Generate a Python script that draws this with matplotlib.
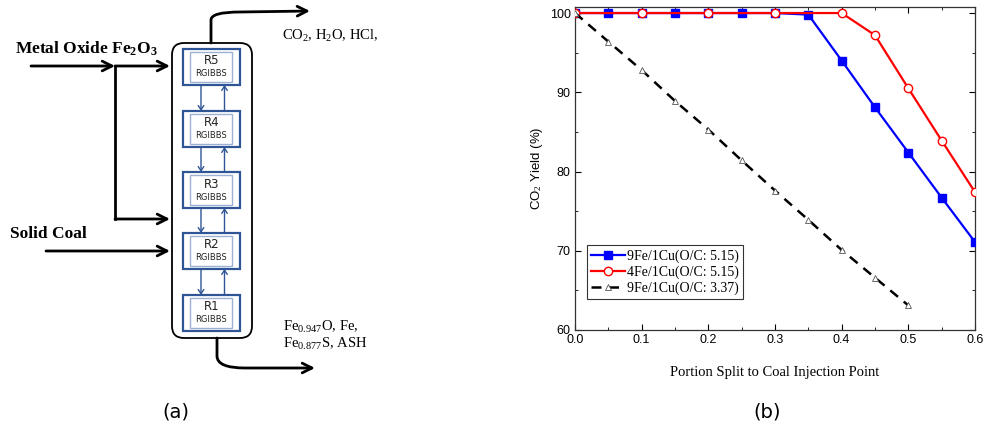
import matplotlib
matplotlib.use('Agg')
import matplotlib.pyplot as plt
from matplotlib.patches import FancyBboxPatch, Rectangle, FancyArrowPatch
from matplotlib.path import Path
from matplotlib.ticker import MultipleLocator

# data for panel (b)
split_blue = [0.0, 0.05, 0.1, 0.15, 0.2, 0.25, 0.3, 0.35, 0.4, 0.45, 0.5, 0.55, 0.6]
yield_blue = [100, 100, 100, 100, 100, 100, 100, 99.8, 94.0, 88.1, 82.4, 76.7, 71.1]
split_red = [0.0, 0.1, 0.2, 0.3, 0.4, 0.45, 0.5, 0.55, 0.6]
yield_red = [100, 100, 100, 100, 100, 97.2, 90.5, 83.9, 77.4]
split_black = [0.0, 0.05, 0.1, 0.15, 0.2, 0.25, 0.3, 0.35, 0.4, 0.45, 0.5]
yield_black = [100, 96.4, 92.8, 88.9, 85.3, 81.4, 77.6, 73.9, 70.1, 66.6, 63.1]
labels = ['9Fe/1Cu(O/C: 5.15)', '4Fe/1Cu(O/C: 5.15)', '9Fe/1Cu(O/C: 3.37)']

# reactors of panel (a), top to bottom
reactors = ['R5', 'R4', 'R3', 'R2', 'R1']

SERIF = 'Liberation Serif'
SANS = 'Liberation Sans'
BLUE_D = '#2f5597'

plt.rcParams['mathtext.fontset'] = 'custom'
plt.rcParams['mathtext.rm'] = SERIF
plt.rcParams['mathtext.it'] = SERIF + ':italic'
plt.rcParams['mathtext.bf'] = SERIF + ':bold'

fig = plt.figure(figsize=(9.84, 4.3), dpi=100)

# ---- panel (a): flow diagram, drawn in pixel coordinates ----
dg = fig.add_axes([0, 0, 1, 1])
dg.set_xlim(0, 984)
dg.set_ylim(430, 0)
dg.axis('off')

dg.add_patch(FancyBboxPatch((172, 43), 80, 295, boxstyle='round,pad=0,rounding_size=12',
                            fc='white', ec='black', lw=1.3, zorder=2))

box_tops = [49, 111, 172, 233, 295]
for name, top in zip(reactors, box_tops):
    dg.add_patch(Rectangle((183, top), 57, 36, fc='white', ec=BLUE_D, lw=1.6, zorder=3))
    dg.add_patch(Rectangle((190, top + 3), 42, 30, fc='white', ec='#9bb0d3', lw=1.0, zorder=3))
    dg.text(211.5, top + 12, name, ha='center', va='center', fontsize=8.5,
            family='DejaVu Sans', color='#222222', zorder=4)
    dg.text(211.5, top + 25, 'RGIBBS', ha='center', va='center', fontsize=6,
            family='DejaVu Sans', color='#222222', zorder=4)

for upper, lower in zip(box_tops[:-1], box_tops[1:]):
    dg.add_patch(FancyArrowPatch((201, upper + 36), (201, lower), arrowstyle='->,head_length=3,head_width=2',
                                 color=BLUE_D, lw=1.0, shrinkA=0, shrinkB=0, zorder=4))
    dg.add_patch(FancyArrowPatch((224.5, lower), (224.5, upper + 36), arrowstyle='->,head_length=3,head_width=2',
                                 color=BLUE_D, lw=1.0, shrinkA=0, shrinkB=0, zorder=4))

arrow_kw = dict(arrowstyle='->,head_length=7,head_width=3.5', color='black', lw=2.0,
                shrinkA=0, shrinkB=0, zorder=4)

# feeds
dg.add_patch(FancyArrowPatch((31, 66), (115, 66), **arrow_kw))
dg.add_patch(FancyArrowPatch((115, 66), (170, 66), **arrow_kw))
dg.plot([115, 115], [66, 219], color='black', lw=2.0, zorder=4, solid_capstyle='projecting')
dg.add_patch(FancyArrowPatch((115, 219), (170, 219), **arrow_kw))
dg.add_patch(FancyArrowPatch((46, 251), (170, 251), **arrow_kw))

# outlets
top_path = Path([(211, 43), (211, 20), (211, 12), (240, 12), (310, 11)],
                [Path.MOVETO, Path.LINETO, Path.CURVE3, Path.CURVE3, Path.LINETO])
dg.add_patch(FancyArrowPatch(path=top_path, **arrow_kw))
bot_path = Path([(217, 338), (217, 356), (217, 368), (245, 368), (315, 368)],
                [Path.MOVETO, Path.LINETO, Path.CURVE3, Path.CURVE3, Path.LINETO])
dg.add_patch(FancyArrowPatch(path=bot_path, **arrow_kw))

dg.text(15, 49, 'Metal Oxide Fe$_\\mathbf{2}$O$_\\mathbf{3}$', fontsize=12.5, fontweight='bold',
        family=SERIF, ha='left', va='center')
dg.text(10, 234, 'Solid Coal', fontsize=12.5, fontweight='bold', family=SERIF, ha='left', va='center')
dg.text(282, 36, 'CO$_2$, H$_2$O, HCl,', fontsize=10.5, family=SERIF, ha='left', va='center')
dg.text(283, 327, 'Fe$_{0.947}$O, Fe,', fontsize=10.5, family=SERIF, ha='left', va='center')
dg.text(283, 344, 'Fe$_{0.877}$S, ASH', fontsize=10.5, family=SERIF, ha='left', va='center')
dg.text(176, 412, '(a)', fontsize=14, family='DejaVu Sans', ha='center', va='center')
dg.text(767, 412, '(b)', fontsize=14, family='DejaVu Sans', ha='center', va='center')

# ---- panel (b): CO2 yield ----
ax = fig.add_axes([575 / 984, 100 / 430, 400 / 984, 323.3 / 430])
ax.plot(split_blue, yield_blue, color='#0000ff', lw=1.6, marker='s', ms=5.5,
        mfc='#0000ff', mec='#0000ff', label=labels[0], zorder=3)
ax.plot(split_red, yield_red, color='#ff0000', lw=1.6, marker='o', ms=6,
        mfc='white', mec='#ff0000', label=labels[1], zorder=4)
ax.plot(split_black, yield_black, color='black', lw=1.8, ls=(0, (4, 3)), marker='^', ms=5,
        mfc='white', mec='#555555', mew=0.6, label=labels[2], zorder=5)

ax.set_xlim(0, 0.6)
ax.set_ylim(60, 100.8)
ax.xaxis.set_major_locator(MultipleLocator(0.1))
ax.xaxis.set_minor_locator(MultipleLocator(0.05))
ax.yaxis.set_major_locator(MultipleLocator(10))
ax.yaxis.set_minor_locator(MultipleLocator(5))
ax.tick_params(which='both', direction='in', top=True, right=True, labelsize=9, pad=3)
ax.tick_params(which='major', length=4)
ax.tick_params(which='minor', length=2.5)
for t in ax.get_xticklabels() + ax.get_yticklabels():
    t.set_family(SANS)
for s in ax.spines.values():
    s.set_linewidth(0.9)
    s.set_color('#333333')

ax.set_xlabel('Portion Split to Coal Injection Point', family=SERIF, fontsize=10.5, labelpad=14)
ax.set_ylabel('CO$_2$ Yield (%)', family=SANS, fontsize=9.5)
ax.yaxis.set_label_coords(-0.075, 0.5)

leg = ax.legend(loc='lower left', bbox_to_anchor=(0.03, 0.095), prop={'family': SERIF, 'size': 10},
                frameon=True, fancybox=False, edgecolor='black', borderpad=0.3,
                labelspacing=0.2, handlelength=2.4, handletextpad=0.2, borderaxespad=0)
leg.get_frame().set_linewidth(0.8)

fig.savefig('out.png', dpi=100)
